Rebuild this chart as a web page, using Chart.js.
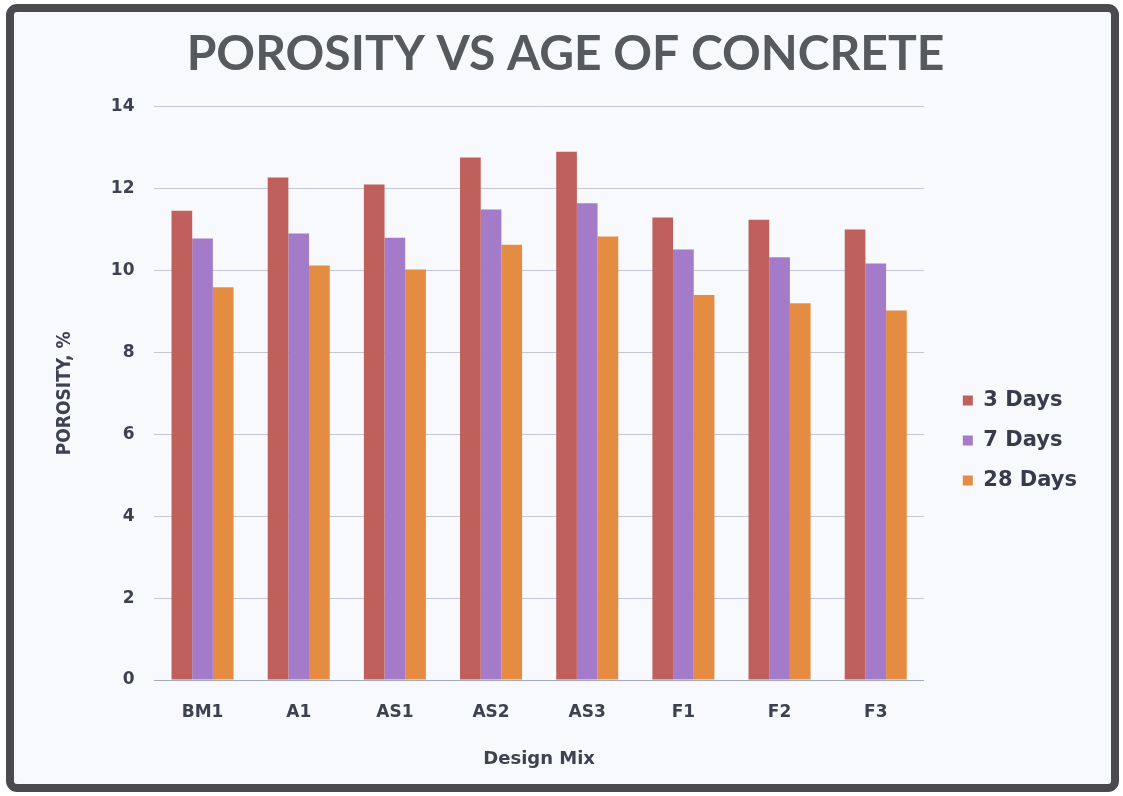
<!DOCTYPE html>
<html>
<head>
<meta charset="utf-8">
<script src="https://cdn.jsdelivr.net/npm/chart.js@4.4.1/dist/chart.umd.min.js"></script>
<style>
  html, body { margin: 0; padding: 0; background: #ffffff; }
  #wrap { width: 1123px; height: 796px; position: relative; }
</style>
</head>
<body>
<div id="wrap"><canvas id="chart" width="1123" height="796"></canvas></div>
<script>
// Design mixes along the x axis
const mixes = ['BM1', 'A1', 'AS1', 'AS2', 'AS3', 'F1', 'F2', 'F3'];

// Porosity (%) at each curing age
const days3  = [11.46, 12.27, 12.10, 12.76, 12.90, 11.29, 11.24, 11.00];
const days7  = [10.78, 10.90, 10.80, 11.49, 11.64, 10.51, 10.32, 10.17];
const days28 = [9.59, 10.12, 10.02, 10.63, 10.83, 9.40, 9.20, 9.02];

const seriesNames = ['3 Days', '7 Days', '28 Days'];
const yTicks = [0, 2, 4, 6, 8, 10, 12, 14];

const labelFont = "'DejaVu Sans', sans-serif";

// Rounded dark frame around the whole figure
const framePlugin = {
  id: 'frame',
  beforeDraw(chart) {
    const ctx = chart.ctx;
    ctx.save();
    ctx.fillStyle = '#ffffff';
    ctx.fillRect(0, 0, chart.width, chart.height);
    ctx.fillStyle = '#f8f9fc';
    ctx.strokeStyle = '#4a4a4f';
    ctx.lineWidth = 8;
    ctx.beginPath();
    ctx.roundRect(10, 8, chart.width - 18, chart.height - 16, 7);
    ctx.fill();
    ctx.stroke();
    ctx.restore();
  }
};

new Chart(document.getElementById('chart'), {
  type: 'bar',
  data: {
    labels: mixes,
    datasets: [
      { label: seriesNames[0], data: days3,  backgroundColor: '#c0605c' },
      { label: seriesNames[1], data: days7,  backgroundColor: '#a47bc8' },
      { label: seriesNames[2], data: days28, backgroundColor: '#e38c42' }
    ]
  },
  options: {
    responsive: false,
    animation: false,
    devicePixelRatio: 1,
    layout: { padding: { top: 16, left: 44, right: 36, bottom: 26 } },
    datasets: { bar: { barPercentage: 1.0, categoryPercentage: 0.645 } },
    plugins: {
      title: {
        display: true,
        text: 'POROSITY VS AGE OF CONCRETE',
        color: '#56595d',
        font: { family: "Lato, 'Open Sans', sans-serif", size: 48, weight: 'bold' },
        padding: { top: 10, bottom: 23 }
      },
      legend: {
        position: 'right',
        align: 'center',
        title: { display: true, text: ' ', padding: { top: 46, bottom: 30 }, font: { size: 16 } },
        labels: {
          boxWidth: 10,
          boxHeight: 10,
          padding: 19,
          color: '#383b4a',
          font: { family: labelFont, size: 21, weight: 'bold' }
        }
      },
      tooltip: { enabled: false }
    },
    scales: {
      x: {
        grid: { display: false, drawTicks: false },
        border: { display: true, color: '#a3abc2', width: 1 },
        ticks: {
          color: '#3e4150',
          padding: 22,
          font: { family: labelFont, size: 17, weight: 'bold' }
        },
        title: {
          display: true,
          text: 'Design Mix',
          color: '#3e4150',
          padding: { top: 4, bottom: 0 },
          font: { family: labelFont, size: 18, weight: 'bold' }
        }
      },
      y: {
        min: 0,
        max: 14,
        afterBuildTicks(axis) { axis.ticks = yTicks.map(v => ({ value: v })); },
        grid: { color: '#c3c7d4', lineWidth: 1, drawTicks: false },
        border: { display: false },
        ticks: {
          color: '#3e4150',
          padding: 20,
          font: { family: labelFont, size: 17, weight: 'bold' }
        },
        title: {
          display: true,
          text: 'POROSITY, %',
          color: '#3e4150',
          padding: { top: 10, bottom: 14 },
          font: { family: "'DejaVu Sans Condensed', 'DejaVu Sans', sans-serif", size: 19, weight: 'bold' }
        }
      },
      // empty right-hand axis that only keeps a gap between plot and legend
      gap: {
        type: 'linear',
        position: 'right',
        display: true,
        grid: { display: false, drawTicks: false },
        border: { display: false },
        ticks: { display: false },
        afterFit(scale) { scale.width = 20; }
      }
    }
  },
  plugins: [framePlugin]
});
</script>
</body>
</html>
